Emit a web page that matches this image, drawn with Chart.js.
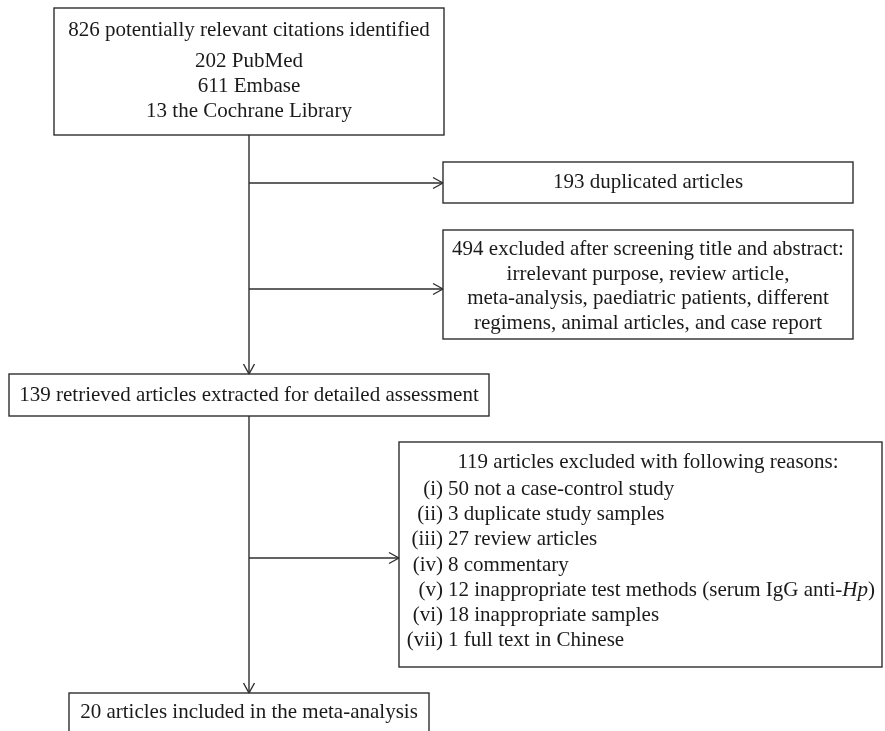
<!DOCTYPE html>
<html><head><meta charset="utf-8">
<script src="https://cdn.jsdelivr.net/npm/chart.js@4/dist/chart.umd.min.js"></script>
<style>html,body{margin:0;padding:0;background:#fff;overflow:hidden}#wrap{width:885px;height:731px;position:relative}</style>
</head><body><div id="wrap"><canvas id="c"></canvas></div>
<script>
// ---- data (texts and counts) ----
const identifiedTitle = ["826 potentially relevant citations identified"];
const sourceCounts = ["202 PubMed", "611 Embase", "13 the Cochrane Library"];
const duplicatedText = ["193 duplicated articles"];
const screeningText = [
  "494 excluded after screening title and abstract:",
  "irrelevant purpose, review article,",
  "meta-analysis, paediatric patients, different",
  "regimens, animal articles, and case report"
];
const retrievedText = ["139 retrieved articles extracted for detailed assessment"];
const exclusionTitle = ["119 articles excluded with following reasons:"];
const reasonNumerals = ["(i)", "(ii)", "(iii)", "(iv)", "(v)", "(vi)", "(vii)"];
const reasonTexts = [
  "50 not a case-control study",
  "3 duplicate study samples",
  "27 review articles",
  "8 commentary",
  "12 inappropriate test methods (serum IgG anti-*Hp*)",
  "18 inappropriate samples",
  "1 full text in Chinese"
];
const includedText = ["20 articles included in the meta-analysis"];

// ---- layout (diagram units on 0..885 x 0..731 scales) ----
const trunkX = 249;
const layoutBoxes = [
  {x0: 54, y0: 8, x1: 444, y1: 135},
  {x0: 443, y0: 162, x1: 853, y1: 203},
  {x0: 443, y0: 230, x1: 853, y1: 339},
  {x0: 9, y0: 374, x1: 489, y1: 416},
  {x0: 399, y0: 442, x1: 882, y1: 667},
  {x0: 69, y0: 693, x1: 429, y1: 745}
];
const connectorPaths = [
  [[trunkX, 135], [trunkX, 374]],
  [[trunkX, 416], [trunkX, 693]],
  [[trunkX, 183], [443, 183]],
  [[trunkX, 289], [443, 289]],
  [[trunkX, 558], [399, 558]]
];

const FONT = '"Liberation Serif", "Times New Roman", serif';
const FS = 21;
const INK = '#2e2e2e';

const centered = (lines, cx, y0, dy) => lines.map((t, i) => ({t, x: cx, y: y0 + i * dy, align: 'center'}));
const textItems = [].concat(
  centered(identifiedTitle, 249, 36, 0),
  centered(sourceCounts, 249, 67, 25),
  centered(duplicatedText, 648, 188, 0),
  centered(screeningText, 648, 255, 24.7),
  centered(retrievedText, 249, 401, 0),
  centered(exclusionTitle, 648, 468, 0),
  reasonNumerals.map((t, i) => ({t, x: 443, y: 495 + i * 25.2, align: 'right'})),
  reasonTexts.map((t, i) => ({t, x: 448, y: 495 + i * 25.2, align: 'left'})),
  centered(includedText, 249, 718, 0)
);

function segs(str) {
  const parts = str.split('*');
  return parts.map((p, i) => ({s: p, it: i % 2 === 1})).filter(p => p.s.length);
}

const flowPlugin = {
  id: 'flow',
  afterDatasetsDraw(chart) {
    const ctx = chart.ctx, xs = chart.scales.x, ys = chart.scales.y;
    ctx.save();
    ctx.strokeStyle = INK; ctx.lineWidth = 1.4;
    chart.data.datasets.forEach(ds => {
      const n = ds.data.length;
      const a = ds.data[n - 2], b = ds.data[n - 1];
      const ax = xs.getPixelForValue(a.x), ay = ys.getPixelForValue(a.y);
      const bx = xs.getPixelForValue(b.x), by = ys.getPixelForValue(b.y);
      const ang = Math.atan2(by - ay, bx - ax);
      const L = 10, W = 5.5;
      ctx.beginPath();
      for (const s of [-1, 1]) {
        const px = bx - L * Math.cos(ang) - s * W * Math.sin(ang);
        const py = by - L * Math.sin(ang) + s * W * Math.cos(ang);
        ctx.moveTo(px, py); ctx.lineTo(bx, by);
      }
      ctx.stroke();
    });
    layoutBoxes.forEach(b => {
      const x0 = xs.getPixelForValue(b.x0), x1 = xs.getPixelForValue(b.x1);
      const y0 = ys.getPixelForValue(b.y0), y1 = ys.getPixelForValue(b.y1);
      ctx.strokeRect(x0, y0, x1 - x0, y1 - y0);
    });
    ctx.fillStyle = '#1a1a1a';
    ctx.textBaseline = 'alphabetic';
    textItems.forEach(it => {
      const parts = segs(it.t);
      const fontOf = p => (p.it ? 'italic ' : '') + FS + 'px ' + FONT;
      let total = 0;
      parts.forEach(p => { ctx.font = fontOf(p); total += ctx.measureText(p.s).width; });
      let x = xs.getPixelForValue(it.x);
      if (it.align === 'center') x -= total / 2;
      else if (it.align === 'right') x -= total;
      const y = ys.getPixelForValue(it.y);
      ctx.textAlign = 'left';
      parts.forEach(p => { ctx.font = fontOf(p); ctx.fillText(p.s, x, y); x += ctx.measureText(p.s).width; });
    });
    ctx.restore();
  }
};

new Chart(document.getElementById('c'), {
  type: 'scatter',
  data: {
    datasets: connectorPaths.map(p => ({
      data: p.map(([x, y]) => ({x, y})),
      showLine: true,
      borderColor: INK,
      borderWidth: 1.4,
      pointRadius: 0,
      fill: false,
      clip: false
    }))
  },
  options: {
    responsive: true,
    maintainAspectRatio: false,
    animation: false,
    devicePixelRatio: 1,
    layout: {padding: 0},
    plugins: {legend: {display: false}, tooltip: {enabled: false}},
    events: [],
    scales: {
      x: {type: 'linear', min: 0, max: 885, display: false},
      y: {type: 'linear', min: 0, max: 731, reverse: true, display: false}
    }
  },
  plugins: [flowPlugin]
});
</script>
</body></html>
